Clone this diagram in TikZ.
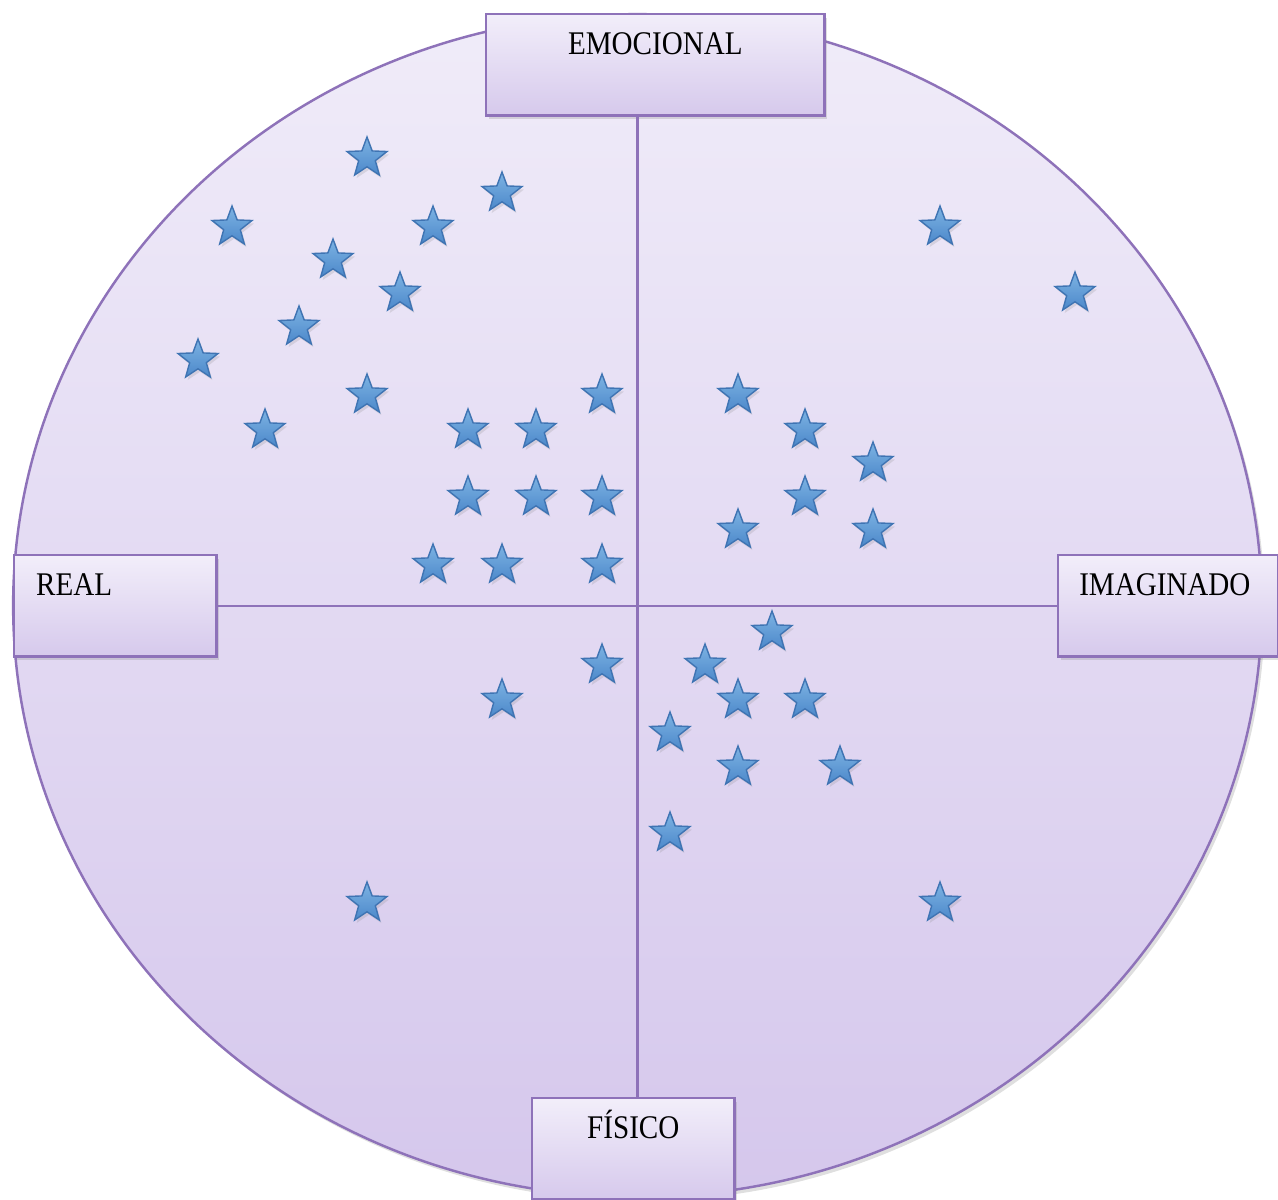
\documentclass[tikz,border=0pt]{standalone}
\usepackage{fontspec}
\setmainfont{Liberation Serif}[FakeStretch=0.88]
\usetikzlibrary{shapes.geometric}
\usetikzlibrary{shadows}

\definecolor{rimpurple}{HTML}{8E72B9}
\definecolor{planetop}{HTML}{F0ECF9}
\definecolor{planebottom}{HTML}{D5C7EC}
\definecolor{boxtop}{HTML}{F2EEFA}
\definecolor{boxbottom}{HTML}{D6C9EC}
\definecolor{startop}{HTML}{7DB3E3}
\definecolor{starbottom}{HTML}{4C88CA}
\definecolor{starrim}{HTML}{3F74B3}

\tikzset{
  softshadow/.style={drop shadow={shadow xshift=0.03cm,shadow yshift=-0.04cm,opacity=0.25}},
  quadbox/.style={draw=rimpurple, line width=0.7pt, top color=boxtop, bottom color=boxbottom,
    minimum height=1.01cm, inner sep=0pt, text height=0.40cm, text depth=0.61cm,
    font=\fontsize{9.4}{11}\selectfont, softshadow, anchor=north west},
  estrella/.style={star, star points=5, star point ratio=2.4, minimum size=0.42cm, inner sep=0pt,
    draw=starrim, line width=0.4pt, top color=startop, bottom color=starbottom,
    drop shadow={shadow xshift=0.02cm,shadow yshift=-0.03cm,opacity=0.2}}
}

\begin{document}
\begin{tikzpicture}[x=0.01cm,y=-0.01cm]
        \useasboundingbox (0,0) rectangle (1278,1199);
        % Draw the big circle
        \node[ellipse, minimum width=12.48cm, minimum height=11.82cm, inner sep=0pt,
          draw=rimpurple, line width=0.7pt, top color=planetop, bottom color=planebottom,
          softshadow] (plane) at (637.5,605.5) {};
        % Label boxes
        \node[quadbox, minimum width=3.38cm] (emo) at (485,13) {EMOCIONAL};
        \node[quadbox, minimum width=2.02cm, text width=1.58cm, align=left] (real) at (13,554) {REAL};
        \node[quadbox, minimum width=2.20cm, text width=1.78cm, align=left] (imag) at (1057,554) {IMAGINADO};
        \node[quadbox, minimum width=2.02cm] (fis) at (531,1097) {FÍSICO};
        % Axes between the boxes
        \draw[rimpurple, line width=0.7pt] (emo.south -| plane.center) -- (fis.north -| plane.center);
        \draw[rimpurple, line width=0.7pt] (real.east) -- (imag.west);
        % Stars
        \foreach \x/\y [count=\i] in {367/158, 502/193, 232/227, 433/227, 333/260, 400/293,
            299/327, 198/360, 367/395, 602/395, 265/430, 468/430, 536/430, 468/497,
            536/497, 602/497, 433/565, 502/565, 602/565, 940/227, 1075/293, 738/395,
            805/430, 873/463, 805/497, 738/530, 873/530, 772/632, 602/665, 705/665,
            502/700, 738/700, 805/700, 670/733, 738/767, 840/767, 670/833, 367/903, 940/903}
          \node[estrella] (s\i) at (\x,\y) {};
      \end{tikzpicture}
\end{document}
